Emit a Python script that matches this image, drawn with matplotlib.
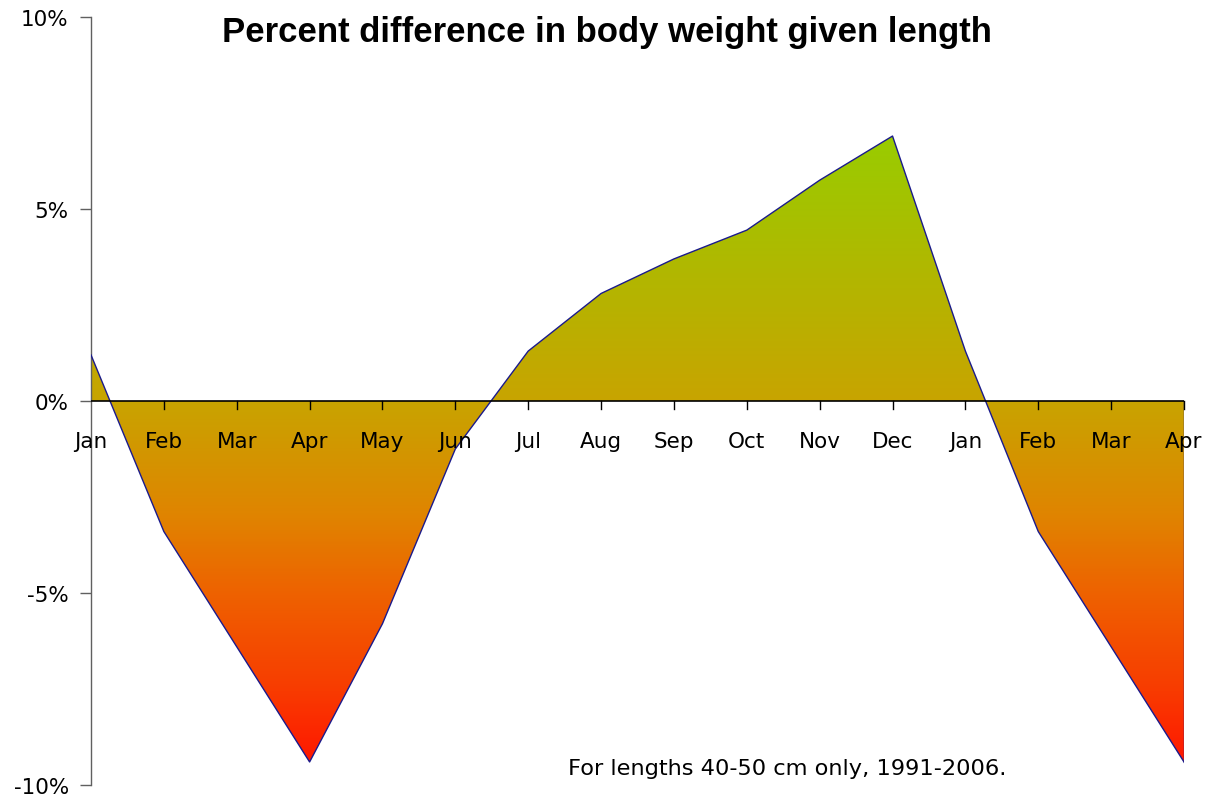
import numpy as np
import matplotlib
matplotlib.use("Agg")
import matplotlib.pyplot as plt
from matplotlib.colors import LinearSegmentedColormap
from matplotlib.path import Path
from matplotlib.patches import PathPatch

months = ["Jan", "Feb", "Mar", "Apr", "May", "Jun", "Jul", "Aug",
          "Sep", "Oct", "Nov", "Dec", "Jan", "Feb", "Mar", "Apr"]
pct_diff = [1.2, -3.4, -6.4, -9.4, -5.8, -1.25, 1.3, 2.8,
            3.7, 4.45, 5.75, 6.9, 1.3, -3.4, -6.4, -9.4]

# gradient stops (value %, colour)
grad_vals = [-9.4, -7.5, -5.0, -3.0, 0.0, 3.5, 6.9]
grad_cols = ["#ff1800", "#f83c00", "#ee6200", "#e08400", "#c8a400", "#b0b800", "#99cc00"]

fig = plt.figure(figsize=(12.13, 8.03), dpi=100)
ax = fig.add_axes([91 / 1213, 1 - 786 / 803, (1184 - 91) / 1213, (786 - 18) / 803])

x = np.arange(len(months))
y = np.array(pct_diff)

ax.set_xlim(0, len(months) - 1)
ax.set_ylim(-10, 10)

# gradient fill clipped to the area polygon
vmin, vmax = min(grad_vals), max(grad_vals)
pos = [(v - vmin) / (vmax - vmin) for v in grad_vals]
cmap = LinearSegmentedColormap.from_list("grad", list(zip(pos, grad_cols)))
grad = np.linspace(vmin, vmax, 512).reshape(-1, 1)
im = ax.imshow(grad, extent=[0, len(months) - 1, vmin, vmax], origin="lower",
               aspect="auto", cmap=cmap, vmin=vmin, vmax=vmax, zorder=1)
verts = [(x[0], 0)] + list(zip(x, y)) + [(x[-1], 0), (x[0], 0)]
clip = PathPatch(Path(verts), facecolor="none", edgecolor="none", transform=ax.transData)
ax.add_patch(clip)
im.set_clip_path(clip)

ax.plot(x, y, color="#1a1a8c", lw=1.0, zorder=3)
ax.plot([x[-1], x[-1]], [y[-1], 0], color="#1a1a8c", lw=1.0, zorder=3)
ax.axhline(0, color="black", lw=1.2, zorder=4)

# x tick marks along zero line
for xi in x[1:]:
    ax.plot([xi, xi], [0, -0.22], color="black", lw=1.0, zorder=4, clip_on=False)
for xi, lab in zip(x, months):
    ax.text(xi, -1.05, lab, ha="center", va="center", fontsize=15.5, color="black", zorder=5)

ax.set_xticks([])
ax.set_yticks([-10, -5, 0, 5, 10])
ax.set_yticklabels(["-10%", "-5%", "0%", "5%", "10%"], fontsize=15.5)
ax.tick_params(axis="y", direction="out", length=8, width=1.0, color="#606060", pad=8)

for s in ["top", "right", "bottom"]:
    ax.spines[s].set_visible(False)
ax.spines["left"].set_color("#606060")
ax.spines["left"].set_linewidth(1.0)

fig.text(607 / 1213, 0.960, "Percent difference in body weight given length",
         ha="center", va="center", fontsize=25, fontweight="bold",
         family="Liberation Sans")
ax.text(9.55, -9.55, "For lengths 40-50 cm only, 1991-2006.", ha="center", va="center",
        fontsize=16.2)

fig.savefig("out.png", dpi=100)
